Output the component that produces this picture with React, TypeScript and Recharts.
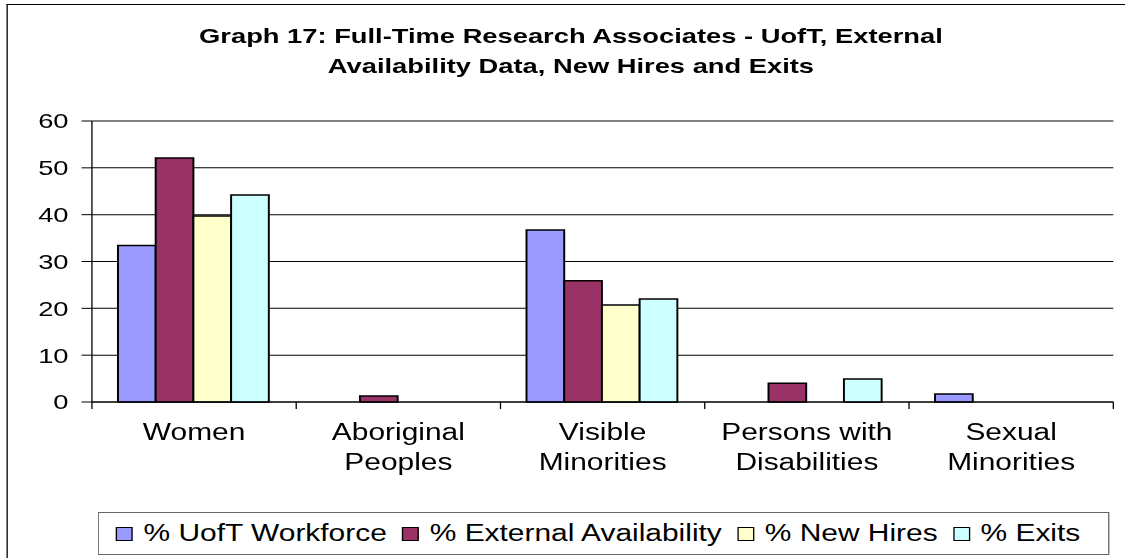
import {
  BarChart, Bar, XAxis, YAxis, CartesianGrid, Legend, ReferenceLine,
} from 'recharts'

const CATEGORIES = [
  ['Women'],
  ['Aboriginal', 'Peoples'],
  ['Visible', 'Minorities'],
  ['Persons with', 'Disabilities'],
  ['Sexual', 'Minorities'],
]

const UOFT_WORKFORCE = [33.4, 0, 36.7, 0, 1.7]
const EXTERNAL_AVAILABILITY = [52.1, 1.3, 25.9, 4.0, 0]
const NEW_HIRES = [39.7, 0, 20.7, 0, 0]
const EXITS = [44.2, 0, 22.0, 4.9, 0]

const Y_TICKS = [0, 10, 20, 30, 40, 50, 60]

const SERIES = [
  { key: 'uoft', name: '% UofT Workforce', color: '#9999FF', values: UOFT_WORKFORCE },
  { key: 'ext', name: '% External Availability', color: '#993366', values: EXTERNAL_AVAILABILITY },
  { key: 'hires', name: '% New Hires', color: '#FFFFCC', values: NEW_HIRES },
  { key: 'exits', name: '% Exits', color: '#CCFFFF', values: EXITS },
]

const data = CATEGORIES.map((lines, i) => {
  const row: Record<string, any> = { name: lines.join(' '), lines }
  SERIES.forEach(s => { row[s.key] = s.values[i] })
  return row
})

// the picture is stretched sideways; draw narrow, then stretch
const W = 865
const H = 558
const STRETCH = 1125 / W
const FONT = '"Liberation Sans", Arial, sans-serif'

/* eslint-disable @typescript-eslint/no-explicit-any */
function CategoryTick({ x, y, width, index, payload }: any) {
  const bw = width / CATEGORIES.length
  const lines: string[] = CATEGORIES[index] ?? [payload.value]
  return (
    <g>
      <line x1={x - bw / 2} x2={x - bw / 2} y1={y} y2={y + 7} stroke="#000" />
      {index === CATEGORIES.length - 1 && (
        <line x1={x + bw / 2} x2={x + bw / 2} y1={y} y2={y + 7} stroke="#000" />
      )}
      {lines.map((t, i) => (
        <text key={i} x={x} y={y + 38.5 + i * 29.5} textAnchor="middle"
              fontSize={23} fill="#000" fontFamily={FONT}>{t}</text>
      ))}
    </g>
  )
}

function LegendBox() {
  return (
    <div style={{
      boxSizing: 'border-box', height: 43, border: '1px solid #666',
      display: 'flex', alignItems: 'center', justifyContent: 'center',
      gap: 12, fontFamily: FONT, fontSize: 23, color: '#000', background: '#fff',
      paddingRight: 8,
    }}>
      {SERIES.map(s => (
        <div key={s.key} style={{ display: 'flex', alignItems: 'center', gap: 8 }}>
          <span style={{
            display: 'inline-block', width: 11, height: 12,
            background: s.color, border: '1.5px solid #000',
          }} />
          <span style={{ whiteSpace: 'nowrap' }}>{s.name}</span>
        </div>
      ))}
    </div>
  )
}

export default function App() {
  return (
    <div style={{
      position: 'absolute', left: 0, top: 0, width: 1125, height: H,
      overflow: 'hidden', background: '#fff',
    }}>
      <div style={{
        position: 'absolute', left: 0, top: 0, width: W, height: H,
        transform: `scaleX(${STRETCH})`, transformOrigin: '0 0',
      }}>
        <div style={{
          position: 'absolute', left: 5, top: 4, width: 870, height: 600,
          borderLeft: '1px solid #000', borderTop: '1px solid #000',
        }} />
        <div style={{
          position: 'absolute', left: 0, width: 878, top: 21, textAlign: 'center',
          fontFamily: FONT, fontWeight: 700, fontSize: 21, lineHeight: '30px', color: '#000',
        }}>
          Graph 17: Full-Time Research Associates - UofT, External<br />
          Availability Data, New Hires and Exits
        </div>
        <div style={{ position: 'absolute', left: 0, top: 0 }}>
          <BarChart width={W} height={H} data={data}
                    margin={{ top: 121, right: 9, left: 0, bottom: 3 }}
                    barCategoryGap={20} barGap={0}>
            <CartesianGrid vertical={false} stroke="#000" strokeWidth={1} />
            <ReferenceLine y={60} stroke="#888" />
            <XAxis dataKey="name" interval={0} height={110}
                   axisLine={{ stroke: '#000' }} tickLine={false}
                   tickSize={0} tickMargin={0} tick={<CategoryTick />} />
            <YAxis domain={[0, 60]} ticks={Y_TICKS} interval={0} width={70.7}
                   axisLine={{ stroke: '#000' }} tickLine={{ stroke: '#000' }}
                   tickSize={8} tickMargin={10}
                   tick={{ fill: '#000', fontSize: 21, fontFamily: FONT }} />
            <YAxis yAxisId="frame" orientation="right" domain={[0, 60]} width={0}
                   tick={false} tickLine={false} axisLine={{ stroke: '#888' }} />
            <Legend verticalAlign="bottom" content={<LegendBox />}
                    wrapperStyle={{ left: 75, width: 778, bottom: 3 }} />
            {SERIES.map(s => (
              <Bar key={s.key} dataKey={s.key} name={s.name} fill={s.color}
                   stroke="#000" strokeWidth={1.5} isAnimationActive={false} />
            ))}
          </BarChart>
        </div>
      </div>
    </div>
  )
}
